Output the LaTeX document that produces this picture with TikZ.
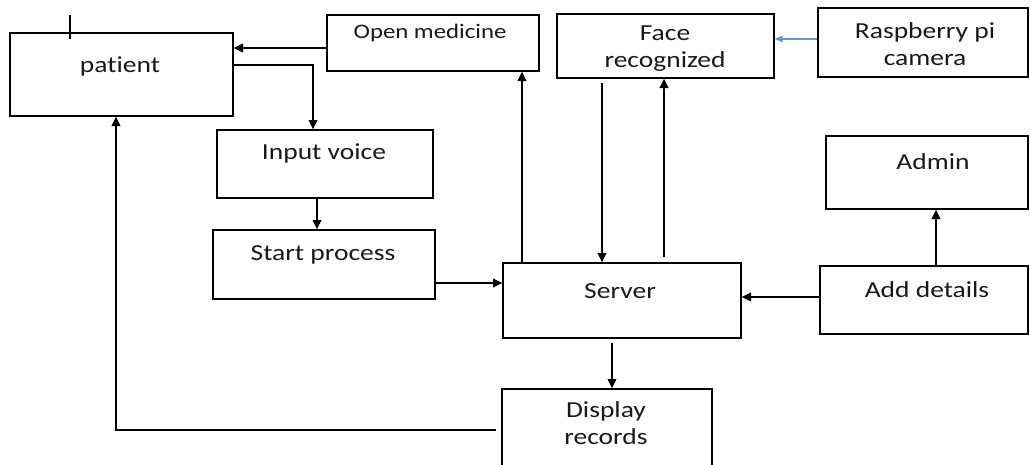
\documentclass[tikz,border=0pt]{standalone}
\usepackage{fontspec}
\setmainfont{Carlito}[FakeStretch=1.2,Ligatures=NoCommon]
\usetikzlibrary{arrows.meta,fit}
\definecolor{camblue}{RGB}{91,155,213}
\begin{document}
\begin{tikzpicture}[x=0.75pt,y=-0.75pt,
  box/.style={draw, line width=1pt, inner sep=0pt},
  txt/.style={font=\fontsize{17.2}{20.25}\selectfont, text=black!90, align=center, inner sep=0pt},
  smalltxt/.style={txt, font=\fontsize{15.5}{18}\selectfont},
  arr/.style={line width=1pt, -{Triangle[length=7pt,width=6.5pt]}},
  camarr/.style={line width=0.8pt, camblue, -{Triangle[length=6pt,width=5pt]}},
  ln/.style={line width=1pt}]
\useasboundingbox (0,0) rectangle (1030,464);
\clip (0,0) rectangle (1030,464);
% boxes
\node[box, fit={(10,33) (233,116)}] (patient) {};
\node[box, fit={(327,15) (539,71)}] (openmed) {};
\node[box, fit={(557,14) (774,78)}] (face) {};
\node[box, fit={(818,8) (1028,77)}] (cam) {};
\node[box, fit={(217,130) (433,198)}] (voice) {};
\node[box, fit={(213,230) (435,299)}] (start) {};
\node[box, fit={(826,136) (1028,209)}] (admin) {};
\node[box, fit={(503,263) (741,338)}] (server) {};
\node[box, fit={(820,266) (1028,334)}] (add) {};
\node[box, fit={(502,389) (712,480)}] (display) {};
% texts
\node[txt] (tpatient) at (120,66) {patient};
\node[smalltxt] (topenmed) at (430,33) {Open medicine};
\node[txt] (tface) at (665,49) {Face\\recognized};
\node[txt] (tcam) at (925,44) {Raspberry pi\\camera};
\node[txt] (tvoice) at (324,153) {Input voice};
\node[txt] (tstart) at (323,255) {Start process};
\node[txt] (tadmin) at (933,162) {Admin};
\node[txt] (tserver) at (620,291) {Server};
\node[txt] (tadd) at (927,290) {Add details};
\node[txt] (tdisplay) at (606,423) {Display\\records};
% tick on patient
\coordinate (tickA) at (70,15);
\coordinate (tickB) at (70,39);
\draw[ln] (tickA) -- (tickB);
% connectors
\draw[arr] (openmed.west |- 0,48) -- (patient.east |- 0,48);
\draw[arr] (patient.east |- 0,65) -| (voice.north -| 313,0);
\draw[arr] (voice.south -| 317,0) -- (start.north -| 317,0);
\draw[arr] (start.east |- 0,283) -- (server.west |- 0,283);
\draw[arr] (server.north -| 522,0) -- (openmed.south -| 522,0);
\draw[arr, shorten <=3pt] (face.south -| 602,0) -- (server.north -| 602,0);
\draw[arr, shorten <=4pt] (server.north -| 664,0) -- (face.south -| 664,0);
\draw[arr] (add.west |- 0,297) -- (server.east |- 0,297);
\draw[arr] (add.north -| 936,0) -- (admin.south -| 936,0);
\draw[arr, shorten <=3pt] (server.south -| 612,0) -- (display.north -| 612,0);
\draw[arr, shorten <=4pt] (display.west |- 0,430) -| (patient.south -| 116,0);
\draw[camarr] (cam.west |- 0,39) -- (face.east |- 0,39);
\end{tikzpicture}
\end{document}
